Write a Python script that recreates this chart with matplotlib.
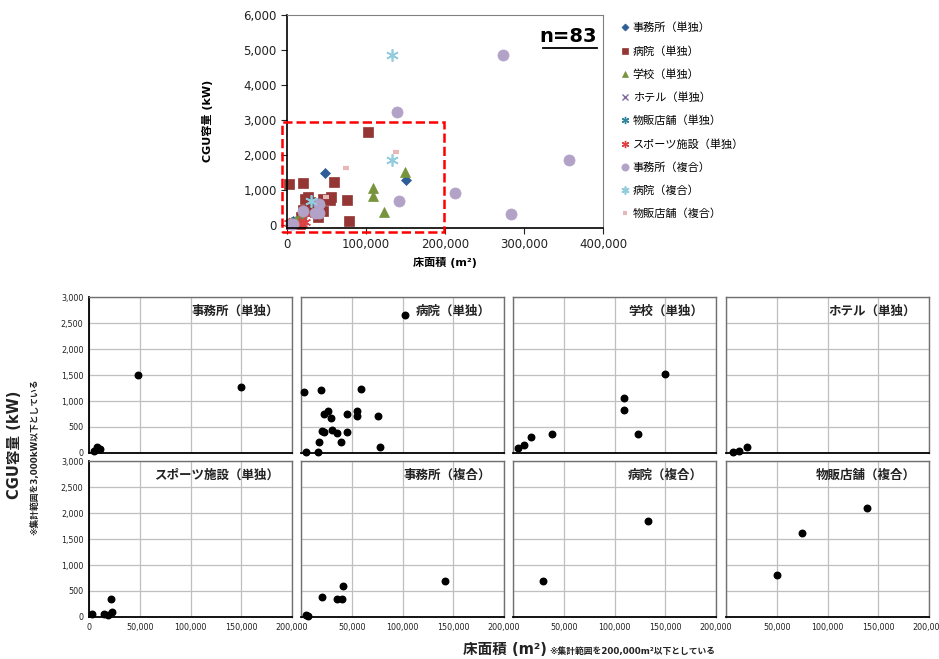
import matplotlib
matplotlib.use('Agg')
import matplotlib.pyplot as plt
from matplotlib.patches import Rectangle
from matplotlib.ticker import FuncFormatter

plt.rcParams['font.family'] = ['DejaVu Sans', 'Noto Sans CJK JP']

# 用途別データ（床面積 m2, CGU容量 kW）
labels = ['事務所（単独）', '病院（単独）', '学校（単独）', 'ホテル（単独）', '物販店舗（単独）',
          'スポーツ施設（単独）', '事務所（複合）', '病院（複合）', '物販店舗（複合）']

office_x = [5000, 8000, 11000, 48000, 150000]
office_y = [40, 120, 80, 1500, 1275]

hospital_x = [3000, 5000, 16500, 17500, 20100, 20800, 22800, 23100, 26400, 29400, 30400,
              35300, 39300, 45200, 45500, 54800, 55100, 59400, 75900, 77900, 102700]
hospital_y = [1173, 26, 26, 218, 1205, 417, 404, 756, 802, 667, 442,
              378, 218, 404, 744, 705, 802, 1225, 705, 109, 2654]

school_x = [5300, 10800, 17700, 38100, 109400, 109400, 123400, 149500]
school_y = [90, 148, 302, 359, 1058, 821, 359, 1525]

hotel_x = [6600, 12500, 20700]
hotel_y = [26, 32, 109]

retail_x = [32000]
retail_y = [700]

sports_x = [2600, 14800, 19000, 21700, 23000]
sports_y = [58, 52, 38, 340, 90]

office_mix_x = [4600, 7300, 20800, 35000, 40600, 40900, 141900, 139600, 213000, 273800, 284000, 357000]
office_mix_y = [40, 19, 391, 340, 340, 590, 692, 3235, 910, 4860, 325, 1866]

hospital_mix_x = [29900, 132700, 132500]
hospital_mix_y = [692, 1852, 4860]

retail_mix_x = [49800, 74900, 138600]
retail_mix_y = [808, 1621, 2090]

xs = [office_x, hospital_x, school_x, hotel_x, retail_x, sports_x, office_mix_x, hospital_mix_x, retail_mix_x]
ys = [office_y, hospital_y, school_y, hotel_y, retail_y, sports_y, office_mix_y, hospital_mix_y, retail_mix_y]

# 上のグラフのマーカー
styles = [
    dict(marker='D', color='#2E5D97', ms=5.5, mew=0.5),
    dict(marker='s', color='#943634', ms=7.5, mew=0.5),
    dict(marker='^', color='#77933C', ms=7, mew=0.5),
    dict(marker='x', color='#7F6A9F', ms=6, mew=1.0),
    dict(marker=(6, 2, 0), color='#31859C', ms=8, mew=1.0),
    dict(marker=(6, 2, 0), color='#E0403F', ms=8, mew=1.0),
    dict(marker='o', color='#B3A2C7', ms=8, mew=0.5),
    dict(marker=(6, 2, 0), color='#93CDDD', ms=9, mew=1.2),
    dict(marker='_', color='#E6B9B8', ms=5, mew=3),
]

# 下の小グラフ（集計範囲：200,000m2以下、3,000kW以下）
panels = [0, 1, 2, 3, 5, 6, 7, 8]
x_max = 200000
y_max = 3000

fmt = FuncFormatter(lambda v, p: f'{int(v):,}')

fig = plt.figure(figsize=(9.39, 6.59), dpi=100)

# 全体の散布図
ax = fig.add_axes([287 / 939, 1 - 227.7 / 659, 316 / 939, 212.7 / 659])
for x, y, lab, st in zip(xs, ys, labels, styles):
    ax.plot(x, y, ls='none', label=lab, marker=st['marker'], color=st['color'],
            ms=st['ms'], mew=st['mew'], clip_on=False)
ax.set_xlim(0, 400000)
ax.set_ylim(-77, 6000)
ax.set_xticks([0, 100000, 200000, 300000, 400000])
ax.set_yticks([0, 1000, 2000, 3000, 4000, 5000, 6000])
ax.xaxis.set_major_formatter(fmt)
ax.yaxis.set_major_formatter(fmt)
ax.tick_params(labelsize=8.5, length=4, direction='out', colors='#222222')
for s in ['top', 'right']:
    ax.spines[s].set_color('#808080')
    ax.spines[s].set_linewidth(0.8)
for s in ['left', 'bottom']:
    ax.spines[s].set_color('black')
    ax.spines[s].set_linewidth(1.2)
ax.set_xlabel('床面積 (m²)', fontsize=8, fontweight='bold', labelpad=4)
ax.set_ylabel('CGU容量 (kW)', fontsize=8, fontweight='bold', labelpad=22)
ax.add_patch(Rectangle((-6000, -210), 204700, 3160, fill=False, ec='#FF0000', ls='--',
                       lw=1.8, clip_on=False, zorder=5))
ax.text(0.981, 0.897, 'n=83', transform=ax.transAxes, ha='right', va='center',
        fontsize=14, fontweight='bold')
ax.plot([0.81, 0.981], [0.845, 0.845], transform=ax.transAxes, color='black', lw=1.3)

fig.legend(loc='upper left', bbox_to_anchor=(615 / 939, 1 - 17 / 659), frameon=False,
           fontsize=8, markerscale=0.65, handlelength=0.8, handletextpad=0.3,
           labelspacing=1.13, borderpad=0)

# 用途別の小グラフ
col_left = [89, 301, 513, 726]
row_top = [297, 461]
for i, d in enumerate(panels):
    r, c = divmod(i, 4)
    pax = fig.add_axes([col_left[c] / 939, 1 - (row_top[r] + 156) / 659, 203 / 939, 156 / 659])
    px = [a for a, b in zip(xs[d], ys[d]) if a <= x_max and b <= y_max]
    py = [b for a, b in zip(xs[d], ys[d]) if a <= x_max and b <= y_max]
    pax.scatter(px, py, s=22, color='black', zorder=3, clip_on=False)
    pax.set_xlim(0, x_max)
    pax.set_ylim(0, y_max)
    pax.set_xticks([0, 50000, 100000, 150000, 200000])
    pax.set_yticks([0, 500, 1000, 1500, 2000, 2500, 3000])
    pax.xaxis.set_major_formatter(fmt)
    pax.yaxis.set_major_formatter(fmt)
    pax.grid(True, color='#BFBFBF', lw=0.9)
    pax.set_axisbelow(True)
    pax.tick_params(labelsize=5.8, length=0, pad=4, colors='#222222')
    if c != 0:
        pax.set_yticklabels([])
    if r == 0:
        pax.set_xticklabels([])
    elif c != 0:
        pax.set_xticklabels([''] + [f'{v:,}' for v in [50000, 100000, 150000, 200000]])
    for s in pax.spines.values():
        s.set_color('#707070')
        s.set_linewidth(1.0)
    pax.spines['bottom'].set_color('black')
    pax.spines['bottom'].set_linewidth(1.3)
    if c == 0:
        pax.spines['left'].set_color('black')
        pax.spines['left'].set_linewidth(1.3)
    pax.text(0.936, 0.91, labels[d], transform=pax.transAxes, ha='right', va='center',
             fontsize=9, fontweight='bold', color='#222222')

fig.text(547 / 939, 1 - 654 / 659, '床面積 (m²)', ha='right', va='baseline',
         fontsize=10.5, fontweight='bold', color='#222222')
fig.text(549 / 939, 1 - 654 / 659, '※集計範囲を200,000m²以下としている', ha='left', va='baseline',
         fontsize=6.3, fontweight='bold', color='#222222')
fig.text(15 / 939, 1 - 445 / 659, 'CGU容量 (kW)', rotation=90, ha='center', va='center',
         fontsize=10.5, fontweight='bold', color='#222222')
fig.text(35 / 939, 1 - 457 / 659, '※集計範囲を3,000kW以下としている', rotation=90, ha='center',
         va='center', fontsize=6.3, fontweight='bold', color='#222222')

fig.savefig('out.png', dpi=100)
